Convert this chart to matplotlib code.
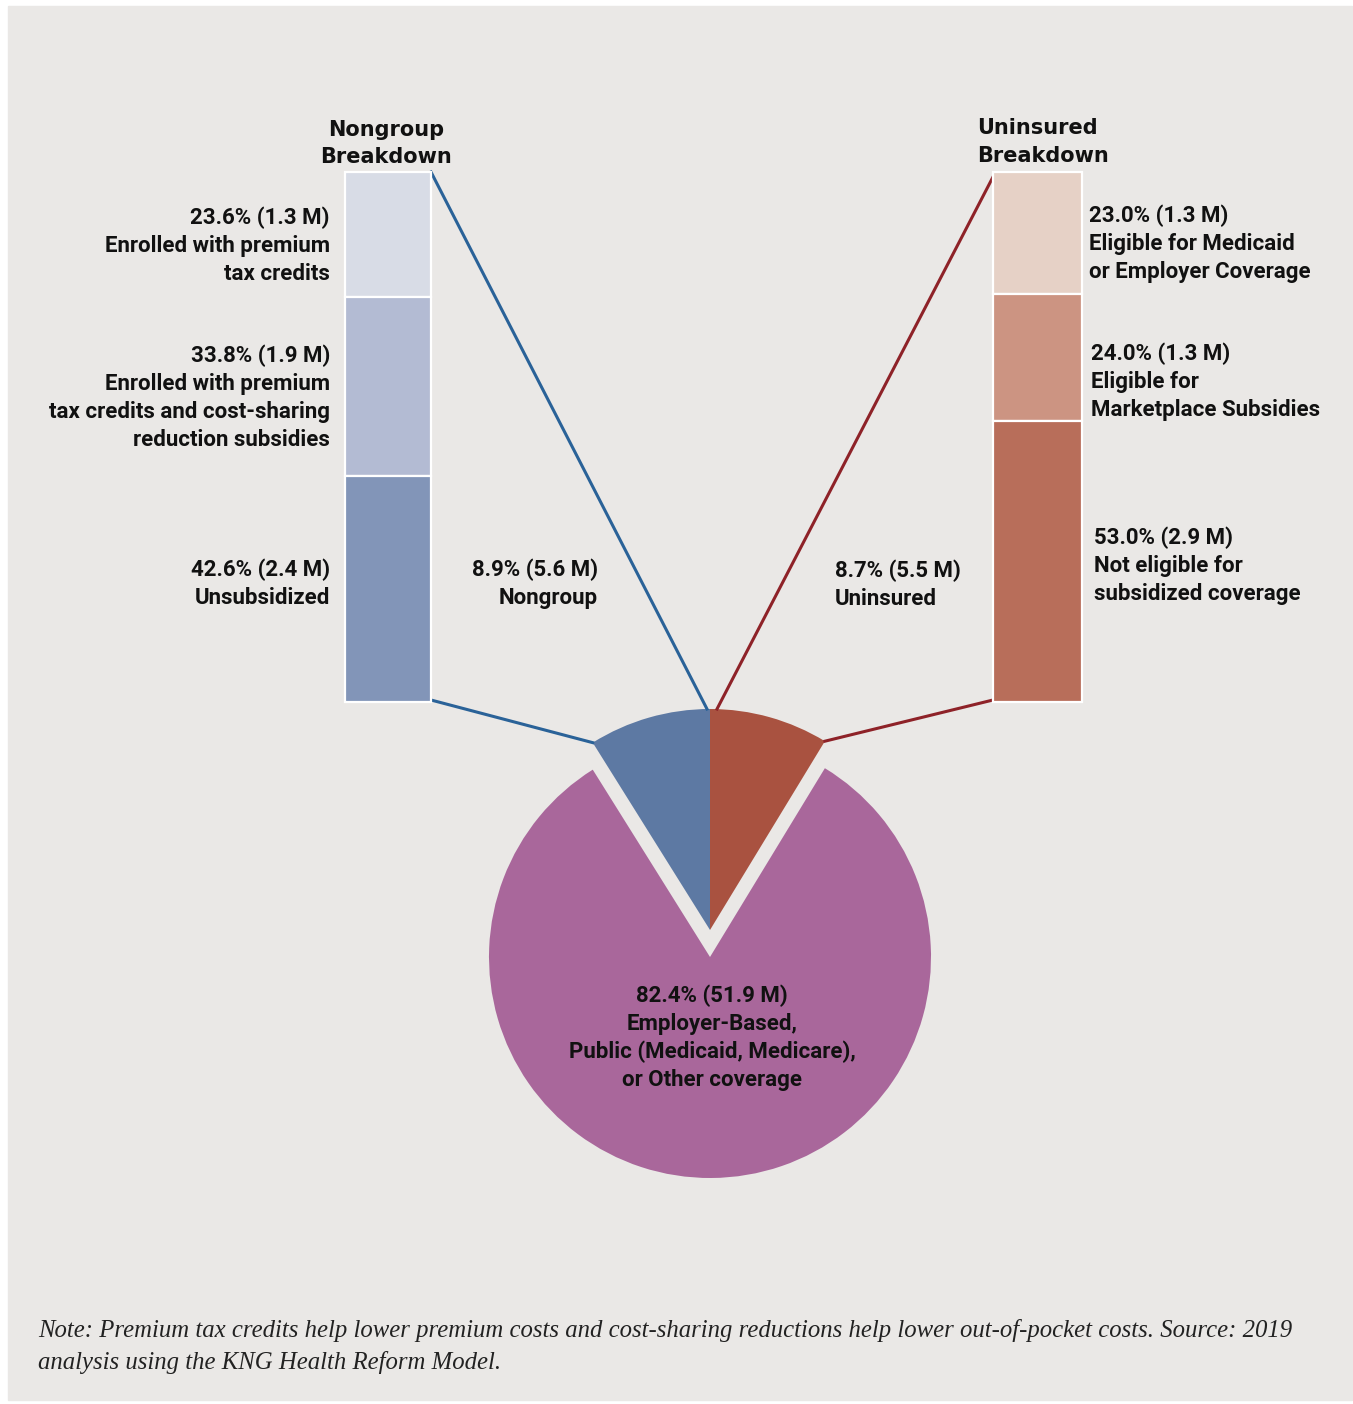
import numpy as np
import matplotlib.pyplot as plt

# coverage split of the total population
pie_labels = ["Nongroup", "Employer/Public/Other", "Uninsured"]
pie_pct = [8.9, 82.4, 8.7]
pie_colors = ["#5D79A3", "#A9679B", "#A95240"]

# nongroup breakdown, listed top to bottom
nongroup_pct = [23.6, 33.8, 42.6]
nongroup_colors = ["#D8DCE6", "#B3BBD3", "#8295B8"]
nongroup_text = [
    ["23.6% (1.3 M)", "Enrolled with premium", "tax credits"],
    ["33.8% (1.9 M)", "Enrolled with premium", "tax credits and cost-sharing", "reduction subsidies"],
    ["42.6% (2.4 M)", "Unsubsidized"],
]

# uninsured breakdown, listed top to bottom
uninsured_pct = [23.0, 24.0, 53.0]
uninsured_colors = ["#E6D1C6", "#CC9482", "#B86E5A"]
uninsured_text = [
    ["23.0% (1.3 M)", "Eligible for Medicaid", "or Employer Coverage"],
    ["24.0% (1.3 M)", "Eligible for", "Marketplace Subsidies"],
    ["53.0% (2.9 M)", "Not eligible for", "subsidized coverage"],
]

note_lines = [
    "Note: Premium tax credits help lower premium costs and cost-sharing reductions "
    "help lower out-of-pocket costs. Source: 2019",
    "analysis using the KNG Health Reform Model.",
]

W, H = 1353, 1404
BG = "#EAE8E6"
BLUE_LINE = "#2A6298"
RED_LINE = "#8E2228"
FONT = "Roboto"


def Y(y):
    # work in top-down pixel rows, flip to the axes' upward y
    return H - y


def lines(ax, x, y0, rows, ha="left", step=28, size=16, family=FONT):
    for i, r in enumerate(rows):
        ax.text(x, Y(y0 + 2 + i * step), r, ha=ha, va="center", fontsize=size,
                fontweight="bold", family=family, color="#111111")


fig = plt.figure(figsize=(W / 100, H / 100), dpi=100, facecolor="white")
ax = fig.add_axes([0, 0, 1, 1])
ax.add_patch(plt.Rectangle((8, Y(1400)), 1344, 1394, color=BG, zorder=0))

# pie: nongroup and uninsured slices lifted straight up out of the circle
cx, cy, r, lift = 710, 957, 221, 27
wedges, _ = ax.pie(pie_pct, colors=pie_colors, startangle=90, counterclock=True,
                   radius=r, center=(cx, Y(cy)), wedgeprops=dict(linewidth=0))
for w in (wedges[0], wedges[2]):
    w.set_center((cx, Y(cy - lift)))

# stacked breakdown bars
bar_top, bar_bottom = 172, 702
bar_h = bar_bottom - bar_top


def stack(xc, width, pcts, colors):
    h = np.array(pcts) / sum(pcts) * bar_h
    bottoms = Y(bar_top) - np.cumsum(h)
    ax.bar([xc] * len(h), h, width=width, bottom=bottoms, color=colors,
           edgecolor="white", linewidth=1.6, zorder=2)


stack(388, 86, nongroup_pct, nongroup_colors)
stack(1037, 89, uninsured_pct, uninsured_colors)

# connector lines from bar corners to the lifted slices
a_ng = np.radians(90 + 360 * pie_pct[0] / 100)
a_un = np.radians(90 - 360 * pie_pct[2] / 100)
sx, sy = cx, Y(cy - lift)
ax.plot([431, cx - 3], [Y(bar_top), sy + r], color=BLUE_LINE, lw=2.2, zorder=1)
ax.plot([431, sx + r * np.cos(a_ng)], [Y(bar_bottom - 2), sy + r * np.sin(a_ng)],
        color=BLUE_LINE, lw=2.2, zorder=1)
ax.plot([994, cx + 7], [Y(bar_top + 3), sy + r], color=RED_LINE, lw=2.2, zorder=1)
ax.plot([993, sx + r * np.cos(a_un)], [Y(bar_bottom - 2), sy + r * np.sin(a_un)],
        color=RED_LINE, lw=2.2, zorder=1)

# titles
lines(ax, 386, 128, ["Nongroup", "Breakdown"], ha="center", step=27, size=15,
      family="DejaVu Sans")
lines(ax, 977, 126, ["Uninsured", "Breakdown"], ha="left", step=28, size=15,
      family="DejaVu Sans")

# bar labels
for y0, rows in zip([216, 354, 568], nongroup_text):
    lines(ax, 330, y0, rows, ha="right")
for (x0, y0), rows in zip([(1089, 214), (1091, 352), (1094, 536)], uninsured_text):
    lines(ax, x0, y0, rows, ha="left")

# slice labels
lines(ax, 598, 568, ["8.9% (5.6 M)", "Nongroup"], ha="right")
lines(ax, 835, 569, ["8.7% (5.5 M)", "Uninsured"], ha="left")
lines(ax, 712, 994, ["82.4% (51.9 M)", "Employer-Based,",
                     "Public (Medicaid, Medicare),", "or Other coverage"], ha="center")

for i, t in enumerate(note_lines):
    ax.text(38, Y(1331 + i * 31), t, ha="left", va="center", fontsize=17.8,
            style="italic", family="Liberation Serif", color="#222222")

ax.set_xlim(0, W)
ax.set_ylim(0, H)
ax.set_aspect("equal")
ax.axis("off")
fig.savefig("out.png", dpi=100, facecolor="white")
